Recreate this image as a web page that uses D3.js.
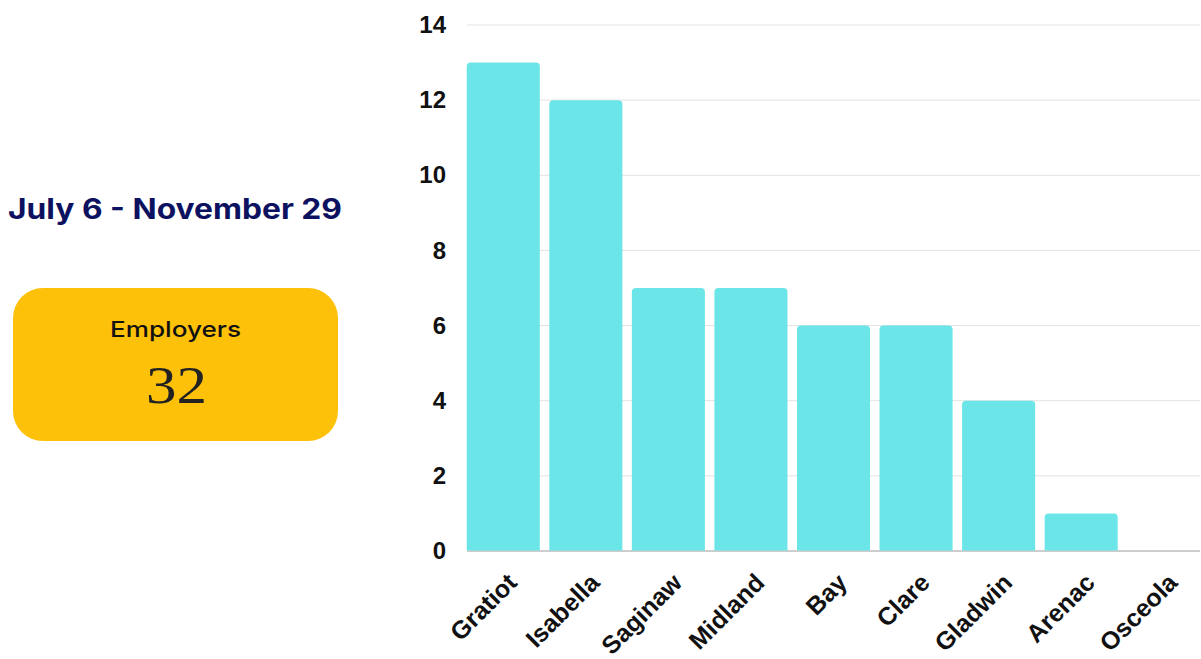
<!DOCTYPE html>
<html>
<head>
<meta charset="utf-8">
<script src="https://cdn.jsdelivr.net/npm/d3@7"></script>
<style>
  html, body { margin: 0; padding: 0; background: #fff; }
  svg { display: block; }
</style>
</head>
<body>
<svg id="chart" width="1201" height="659"></svg>
<script>
// Employers by county
const counties = ["Gratiot", "Isabella", "Saginaw", "Midland", "Bay", "Clare", "Gladwin", "Arenac", "Osceola"];
const employers = [13, 12, 7, 7, 6, 6, 4, 1, 0];
const yTicks = [0, 2, 4, 6, 8, 10, 12, 14];
const dateRange = "July 6 - November 29";
const cardLabel = "Employers";
const cardValue = 32;

const svg = d3.select("#chart");

const x = d3.scaleBand()
  .domain(counties)
  .range([462, 1205])
  .paddingInner(0.115)
  .paddingOuter(0.0575);

const y = d3.scaleLinear()
  .domain([0, 14])
  .range([551, 25]);

// horizontal gridlines
svg.append("g")
  .selectAll("line")
  .data(yTicks)
  .join("line")
  .attr("x1", 467)
  .attr("x2", 1200)
  .attr("y1", d => y(d))
  .attr("y2", d => y(d))
  .attr("stroke", d => d === 0 ? "#bdbdbd" : "#e2e2e2")
  .attr("stroke-width", d => d === 0 ? 1.5 : 1);

// y axis labels
const yAxis = d3.axisLeft(y).tickValues(yTicks).tickSize(0).tickPadding(0);
svg.append("g")
  .attr("transform", "translate(446,0)")
  .call(yAxis)
  .call(g => g.select(".domain").remove())
  .selectAll("text")
  .attr("font-family", "Liberation Sans, Arial, sans-serif")
  .attr("font-weight", "bold")
  .attr("font-size", 24)
  .attr("fill", "#111");

// bars with rounded top corners
function barPath(x0, w, yTop, yBase, r) {
  const h = yBase - yTop;
  if (h <= 0) return "";
  const rr = Math.min(r, h, w / 2);
  return `M${x0},${yBase}V${yTop + rr}Q${x0},${yTop} ${x0 + rr},${yTop}` +
         `H${x0 + w - rr}Q${x0 + w},${yTop} ${x0 + w},${yTop + rr}V${yBase}Z`;
}

svg.append("g")
  .selectAll("path")
  .data(counties.map((c, i) => ({ county: c, value: employers[i] })))
  .join("path")
  .attr("d", d => barPath(x(d.county), x.bandwidth(), y(d.value), y(0) - 0.5, 4))
  .attr("fill", "#6ce5e8");

// category labels, rotated
svg.append("g")
  .selectAll("text")
  .data(counties)
  .join("text")
  .attr("transform", d => `translate(${x(d) + x.bandwidth() / 2 + 9},${578}) rotate(-45)`)
  .attr("text-anchor", "end")
  .attr("dy", "0.35em")
  .attr("font-family", "Liberation Sans, Arial, sans-serif")
  .attr("font-weight", "bold")
  .attr("font-size", 25)
  .attr("fill", "#111")
  .text(d => d);

// date range heading
svg.append("text")
  .attr("x", 8)
  .attr("y", 219)
  .attr("font-family", "Inter, Liberation Sans, sans-serif")
  .attr("font-weight", "bold")
  .attr("font-size", 28)
  .attr("textLength", 334)
  .attr("lengthAdjust", "spacingAndGlyphs")
  .attr("fill", "#0d1260")
  .text(dateRange);

// summary card
svg.append("rect")
  .attr("x", 13)
  .attr("y", 288)
  .attr("width", 325)
  .attr("height", 153)
  .attr("rx", 30)
  .attr("fill", "#fec10a");

svg.append("text")
  .attr("x", 110)
  .attr("y", 337)
  .attr("font-family", "Inter, Liberation Sans, sans-serif")
  .attr("font-weight", 500)
  .attr("font-size", 22)
  .attr("textLength", 131)
  .attr("lengthAdjust", "spacingAndGlyphs")
  .attr("fill", "#111")
  .text(cardLabel);

svg.append("text")
  .attr("x", 146)
  .attr("y", 403)
  .attr("font-family", "Liberation Serif, DejaVu Serif, serif")
  .attr("font-size", 53)
  .attr("textLength", 61)
  .attr("lengthAdjust", "spacingAndGlyphs")
  .attr("fill", "#222")
  .text(cardValue);
</script>
</body>
</html>
